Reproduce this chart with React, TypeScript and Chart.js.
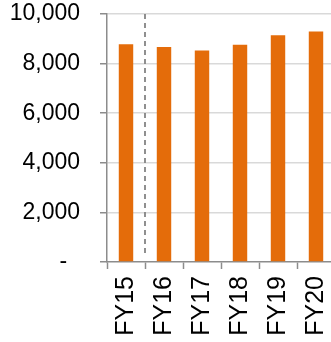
import React, { useEffect, useRef } from 'react';
import { Chart, registerables } from 'chart.js';

Chart.register(...registerables);

const categories = ['FY15', 'FY16', 'FY17', 'FY18', 'FY19', 'FY20'];
const values = [8780, 8670, 8530, 8760, 9140, 9290];
const yTickValues = [0, 2000, 4000, 6000, 8000, 10000];
const yTickLabels = ['-  ', '2,000', '4,000', '6,000', '8,000', '10,000'];
const dividerAfterIndex = 0;

const BAR = '#E46C0A';
const AXIS = '#8c8c8c';
const GRID = '#d9d9d9';
const FONT = "'Liberation Sans', Arial, sans-serif";

const dashedDivider = {
  id: 'dashedDivider',
  afterDatasetsDraw(chart: any) {
    const xs = chart.scales.x;
    const ys = chart.scales.y;
    const ctx = chart.ctx;
    const px = (xs.getPixelForValue(dividerAfterIndex) + xs.getPixelForValue(dividerAfterIndex + 1)) / 2;
    ctx.save();
    ctx.strokeStyle = '#848484';
    ctx.lineWidth = 1.8;
    ctx.setLineDash([5, 4]);
    ctx.beginPath();
    ctx.moveTo(px, ys.top);
    ctx.lineTo(px, ys.bottom - 8);
    ctx.stroke();
    ctx.restore();
  },
};

export default function App() {
  const ref = useRef<HTMLCanvasElement>(null);

  useEffect(() => {
    document.body.style.margin = '0';
    document.body.style.overflow = 'hidden';
    const chart = new Chart(ref.current as HTMLCanvasElement, {
      type: 'bar',
      data: {
        labels: categories,
        datasets: [
          {
            data: values,
            backgroundColor: BAR,
            borderWidth: 0,
            barPercentage: 0.38,
            categoryPercentage: 1,
          },
        ],
      },
      plugins: [dashedDivider],
      options: {
        responsive: false,
        animation: false,
        layout: { padding: { top: 14, right: 1, left: 0, bottom: 0 } },
        plugins: { legend: { display: false }, tooltip: { enabled: false } },
        scales: {
          x: {
            grid: {
              display: true,
              drawOnChartArea: false,
              drawTicks: true,
              tickLength: 7,
              tickColor: AXIS,
              tickWidth: 1.5,
              offset: true,
            },
            border: { color: AXIS, width: 1.5 },
            ticks: {
              color: '#000',
              font: { family: FONT, size: 25 },
              minRotation: 90,
              maxRotation: 90,
              padding: 7,
              autoSkip: false,
            },
            afterFit: (s: any) => {
              s.height = 80;
              s.paddingLeft = 0;
              s.paddingRight = 0;
            },
          },
          y: {
            min: 0,
            max: 10000,
            afterBuildTicks: (s: any) => {
              s.ticks = yTickValues.map((v) => ({ value: v }));
            },
            grid: {
              color: (c: any) => (c.tick && c.tick.value === 0 ? 'rgba(0,0,0,0)' : GRID),
              lineWidth: 1.5,
              tickLength: 7,
              tickColor: AXIS,
              tickWidth: 1.5,
            },
            border: { color: AXIS, width: 1.5 },
            ticks: {
              color: '#000',
              font: { family: FONT, size: 23 },
              padding: 20,
              callback: (_v: any, i: number) => yTickLabels[i],
            },
            afterFit: (s: any) => {
              s.width = 107;
              s.paddingTop = 0;
              s.paddingBottom = 0;
            },
          },
        },
      },
    });
    return () => chart.destroy();
  }, []);

  return (
    <div style={{ width: 331, height: 342, overflow: 'hidden', position: 'relative' }}>
      <canvas ref={ref} width={336} height={342} style={{ display: 'block' }} />
    </div>
  );
}
